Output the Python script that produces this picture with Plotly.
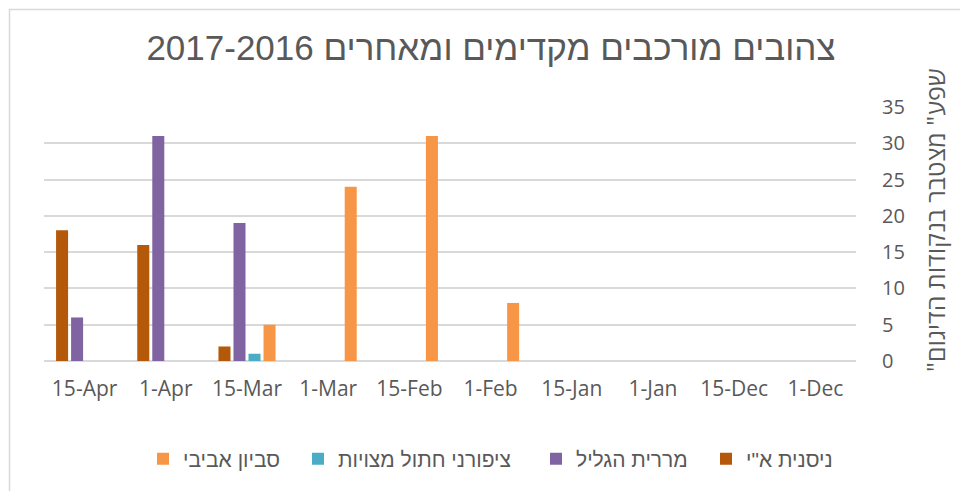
import plotly.graph_objects as go

categories = ["1-Dec", "15-Dec", "1-Jan", "15-Jan", "1-Feb", "15-Feb", "1-Mar", "15-Mar", "1-Apr", "15-Apr"]

savyon = [None, None, None, None, 8, 31, 24, 5, None, None]
tziporney = [None, None, None, None, None, None, None, 1, None, None]
mererit = [None, None, None, None, None, None, None, 19, 31, 6]
nisanit = [None, None, None, None, None, None, None, 2, 16, 18]

series_names = ["סביון אביבי", "ציפורני חתול מצויות", "מררית הגליל", 'ניסנית א"י']
series_values = [savyon, tziporney, mererit, nisanit]
series_colors = ["#F79646", "#4BACC6", "#8064A2", "#B4580A"]

y_ticks = [0, 5, 10, 15, 20, 25, 30, 35]

title_text = "צהובים מורכבים מקדימים ומאחרים 2017-2016"
y_title = '"שפע" מצטבר בנקודות הדיגום'

FONT = "Open Sans, Liberation Sans, DejaVu Sans, sans-serif"
LFONT = "Liberation Sans, Arial, sans-serif"
TXT = "#595959"

OFF = 8  # page body margin
W, H = 968, 491
L = 44 - OFF
T = 107 - OFF
R = W - (856 - OFF)
B = H - (361 - OFF)
pw, ph = W - L - R, H - T - B

def px_x(x):
    return (x - OFF - L) / pw

def px_y(y):
    return (H - B - (y - OFF)) / ph

legend_keys = ["legend", "legend2", "legend3", "legend4"]
legend_left = [143, 298, 536, 706]  # screen x of legend item starts

fig = go.Figure()
for name, vals, col, lk in zip(series_names, series_values, series_colors, legend_keys):
    fig.add_trace(go.Bar(x=categories, y=vals, name=name, legend=lk,
                         marker=dict(color=col, line=dict(width=0))))

legends = {}
for lk, lx in zip(legend_keys, legend_left):
    legends[lk] = dict(orientation="h", x=px_x(lx), xanchor="left", y=px_y(459), yanchor="middle",
                       font=dict(size=21, color=TXT, family=LFONT), bgcolor="rgba(0,0,0,0)",
                       itemwidth=30)

fig.update_layout(
    width=W, height=H,
    margin=dict(l=L, r=R, t=T, b=B, autoexpand=False),
    paper_bgcolor="white", plot_bgcolor="white",
    barmode="group", bargap=0.26, bargroupgap=0.2,
    font=dict(family=FONT, color=TXT, size=17),
    title=dict(text=title_text, xref="container", x=(491 - OFF) / W, xanchor="center",
               yref="container", y=1 - (48 - OFF) / H, yanchor="middle",
               font=dict(family="Liberation Sans Narrow, Liberation Sans, Arial, sans-serif", size=35, color=TXT)),
    xaxis=dict(autorange="reversed", showgrid=False, showline=False, ticks="",
               tickfont=dict(size=21, color=TXT, family=FONT), ticklabelstandoff=13),
    yaxis=dict(side="right", range=[0, 35], tickvals=y_ticks, showgrid=True, gridcolor="#D9D9D9", gridwidth=1.5,
               zeroline=True, zerolinecolor="#D9D9D9", zerolinewidth=1.5, showline=False,
               ticks="outside", ticklen=21, tickcolor="rgba(0,0,0,0)",
               tickfont=dict(size=20, color=TXT, family=FONT)),
    showlegend=True,
    annotations=[dict(text=y_title, textangle=-90, xref="paper", yref="paper",
                      x=px_x(935), y=px_y(220), xanchor="center", yanchor="middle", showarrow=False,
                      font=dict(size=25, color=TXT, family=FONT))],
    shapes=[
        dict(type="line", xref="paper", yref="paper", x0=px_x(9), x1=px_x(990), y0=px_y(9.5), y1=px_y(9.5),
             line=dict(color="#D9D9D9", width=1.5)),
        dict(type="line", xref="paper", yref="paper", x0=px_x(9.5), x1=px_x(9.5), y0=px_y(9), y1=px_y(510),
             line=dict(color="#D9D9D9", width=1.5)),
    ],
    **legends,
)

fig.write_html("out.html")
